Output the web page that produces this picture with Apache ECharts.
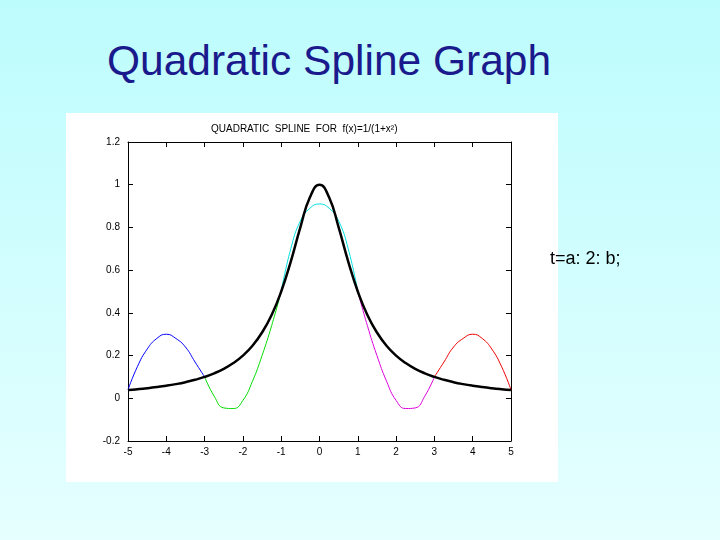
<!DOCTYPE html>
<html><head><meta charset="utf-8">
<script src="https://cdn.jsdelivr.net/npm/echarts@6/dist/echarts.min.js"></script>
<style>
body{margin:0;width:720px;height:540px;overflow:hidden;background:linear-gradient(#bdfcfd,#e6ffff);font-family:"Liberation Sans",Arial,sans-serif;position:relative}
#t{position:absolute;left:107px;top:37px;font-size:42.5px;color:#1a1a8c}
#s{position:absolute;left:550px;top:248px;font-size:18px;color:#000}
#c{position:absolute;left:66px;top:113px;width:492px;height:369px;background:#fff}
</style></head><body>
<div id="t">Quadratic Spline Graph</div>
<div id="c"></div>
<div id="s">t=a: 2: b;</div>
<script>
const xsBlack=[-5,-4.75,-4.5,-4.25,-4,-3.75,-3.5,-3.25,-3,-2.75,-2.5,-2.25,-2,-1.75,-1.5,-1.25,-1,-0.75,-0.5,-0.25,0,0.25,0.5,0.75,1,1.25,1.5,1.75,2,2.25,2.5,2.75,3,3.25,3.5,3.75,4,4.25,4.5,4.75,5];
const yBlack=[0.0385,0.0425,0.0471,0.0525,0.0588,0.0664,0.0755,0.0865,0.1,0.117,0.138,0.165,0.2,0.246,0.308,0.39,0.5,0.64,0.8,0.941,1,0.941,0.8,0.64,0.5,0.39,0.308,0.246,0.2,0.165,0.138,0.117,0.1,0.0865,0.0755,0.0664,0.0588,0.0525,0.0471,0.0425,0.0385];
const xBlue=[-5,-4.75,-4.5,-4.25,-4,-3.75,-3.5,-3.25,-3];
const yBlue=[0.04,0.15,0.23,0.28,0.30,0.28,0.24,0.17,0.10];
const xGreen=[-3,-2.75,-2.5,-2.25,-2,-1.75,-1.5,-1.25,-1];
const yGreen=[0.10,0.01,-0.045,-0.048,-0.01,0.08,0.2,0.34,0.5];
const xCyan=[-1,-0.75,-0.5,-0.25,0,0.25,0.5,0.75,1];
const yCyan=[0.5,0.7,0.83,0.89,0.91,0.89,0.83,0.7,0.5];
const xMag=[1,1.25,1.5,1.75,2,2.25,2.5,2.75,3];
const yMag=[0.5,0.34,0.2,0.08,-0.01,-0.048,-0.045,0.01,0.10];
const xRed=[3,3.25,3.5,3.75,4,4.25,4.5,4.75,5];
const yRed=[0.10,0.17,0.24,0.28,0.30,0.28,0.23,0.15,0.04];
const zip=(a,b)=>a.map((v,i)=>[v,b[i]]);
const ln=(x,y,c,w)=>({type:'line',data:zip(x,y),smooth:true,showSymbol:false,lineStyle:{color:c,width:w},z:w>1?3:2});
const ax={axisLine:{onZero:false,lineStyle:{color:'#000'}},axisTick:{inside:true,length:5,lineStyle:{color:'#000'}},splitLine:{show:false}};
const ch=echarts.init(document.getElementById('c'));
ch.setOption({
 animation:false,
 title:{text:'QUADRATIC  SPLINE  FOR  f(x)=1/(1+x²)',left:140,top:6,textStyle:{fontSize:10,fontWeight:'normal',color:'#000'}},
 grid:{left:62,right:47,top:29,bottom:41},
 xAxis:[Object.assign({type:'value',min:-5,max:5,interval:1,axisLabel:{color:'#000',fontSize:10,margin:6}},ax),
        Object.assign({type:'value',position:'top',min:-5,max:5,interval:1,axisLabel:{show:false}},ax)],
 yAxis:[Object.assign({type:'value',min:-0.2,max:1.2,interval:0.2,axisLabel:{color:'#000',fontSize:10,formatter:v=>+v.toFixed(1)+''}},ax),
        Object.assign({type:'value',position:'right',min:-0.2,max:1.2,interval:0.2,axisLabel:{show:false}},ax)],
 series:[ln(xBlue,yBlue,'#0000ff',1),ln(xGreen,yGreen,'#00dd00',1),ln(xCyan,yCyan,'#00e0e0',1),ln(xMag,yMag,'#dd00dd',1),ln(xRed,yRed,'#ee0000',1),ln(xsBlack,yBlack,'#000',2.5)]
});
</script></body></html>
